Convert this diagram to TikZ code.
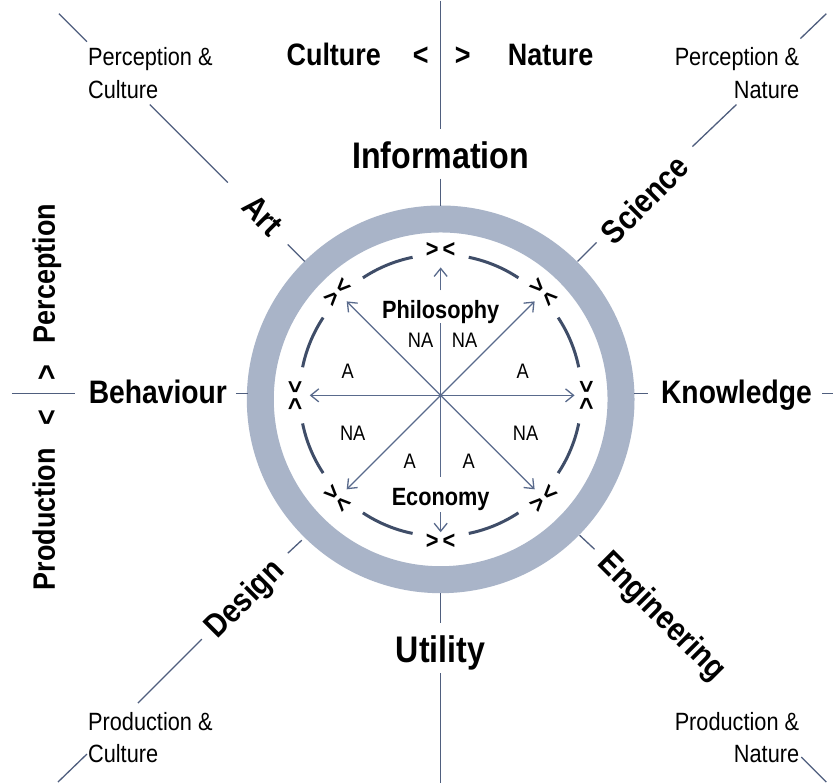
\documentclass[tikz,border=0pt]{standalone}
\usepackage{fontspec}
\setmainfont[FakeStretch=0.87]{Liberation Sans}
\usetikzlibrary{arrows.meta}
\definecolor{ringc}{HTML}{A9B4C8}
\definecolor{spokec}{HTML}{4F5E7E}
\definecolor{dashc}{HTML}{3F4D68}
\definecolor{arrc}{HTML}{596A8C}
\begin{document}
\begin{tikzpicture}[x=1pt,y=-1pt,
  spokeline/.style={draw=spokec,line width=1.3pt},
  biglab/.style={font=\fontsize{37}{40}\selectfont\bfseries, inner sep=0pt},
  midlab/.style={font=\fontsize{32.5}{40}\selectfont\bfseries, inner sep=0pt},
  axlab/.style={font=\fontsize{31}{36}\selectfont\bfseries, inner sep=0pt},
  diaglab/.style={font=\fontsize{33}{36}\selectfont\bfseries, inner sep=0pt},
  smalllab/.style={font=\fontsize{25}{30}\selectfont, inner sep=0pt},
  inlab/.style={font=\fontsize{25}{30}\selectfont\bfseries, inner sep=0pt},
  zonelab/.style={font=\fontsize{21}{24}\selectfont, inner sep=0pt},
  chev/.style={font=\fontsize{25}{28}\selectfont\bfseries, inner sep=0pt},
  arrline/.style={draw=arrc, line width=1.3pt},
  inarrow/.style={arrline, -{Straight Barb[length=8pt,width=13pt]}},
  dashseg/.style={draw=dashc, line width=3pt}
]
\fill[white] (0,0) rectangle (834,783);

% ring
\draw[draw=ringc, line width=27pt] (441,399) circle[radius=180.5];

% outer spokes
\draw[spokeline] (441,0) -- (441,128);
\draw[spokeline] (441,178) -- (441,206);
\draw[spokeline] (441,593) -- (441,623);
\draw[spokeline] (441,673) -- (441,783);
\draw[spokeline] (12,393) -- (75,393);
\draw[spokeline] (236,393) -- (248,393);
\draw[spokeline] (634,393) -- (648,393);
\draw[spokeline] (823,393) -- (834,393);
\draw[spokeline] (59,13) -- (87,41);
\draw[spokeline] (150,104) -- (228,182);
\draw[spokeline] (288,244) -- (305,261);
\draw[spokeline] (827,13) -- (801,38);
\draw[spokeline] (737,104) -- (693,146);
\draw[spokeline] (597,242) -- (578,261);
\draw[spokeline] (202,639) -- (138,703);
\draw[spokeline] (87,754) -- (58,782);
\draw[spokeline] (302,540) -- (288,553);
\draw[spokeline] (580,535) -- (595,549);
\draw[spokeline] (802,757) -- (827,782);

% inner part
\begin{scope}[shift={(441,395)}, y=1pt]
  \coordinate (O) at (0,0);
  \foreach \a in {22.5,67.5,...,337.5}
    \draw[dashseg] ({\a-11}:141) arc[start angle={\a-11}, end angle={\a+11}, radius=141];
  \foreach \a in {0,45,...,315}
    \node[chev, rotate=\a-90] (ch\a) at (\a:145) {>\hspace{4pt}<};
  \foreach \a/\r in {0/134, 45/133, 135/133, 180/131, 225/133, 315/133}
    \draw[inarrow] (O) -- (\a:\r);
  \draw[arrline] (O) -- (0,72);
  \draw[inarrow] (0,105) -- (0,128);
  \draw[arrline] (O) -- (0,-82);
  \draw[inarrow] (0,-117) -- (0,-137);
\end{scope}

% inner labels
\node[inlab, anchor=base] (phil) at (441,318) {Philosophy};
\node[inlab, anchor=base] (econ) at (441,505) {Economy};
\node[zonelab, anchor=base] (z1) at (421,347) {NA};
\node[zonelab, anchor=base] (z2) at (465,347) {NA};
\node[zonelab, anchor=base] (z3) at (348,378) {A};
\node[zonelab, anchor=base] (z4) at (523,378) {A};
\node[zonelab, anchor=base] (z5) at (353,440) {NA};
\node[zonelab, anchor=base] (z6) at (526,440) {NA};
\node[zonelab, anchor=base] (z7) at (410,468) {A};
\node[zonelab, anchor=base] (z8) at (469,468) {A};

% main labels
\node[biglab, anchor=base] (info) at (441,168) {Information};
\node[biglab, anchor=base] (util) at (441,662) {Utility};
\node[midlab, anchor=base] (behav) at (158,403) {Behaviour};
\node[midlab, anchor=base] (know) at (737,403) {Knowledge};
\node[axlab, anchor=base] (cult) at (334,65) {Culture};
\node[axlab, anchor=base] (ltop) at (421,65) {<};
\node[axlab, anchor=base] (gtop) at (463,65) {>};
\node[axlab, anchor=base] (nat) at (551,65) {Nature};
\node[axlab, anchor=base, rotate=90] (perc) at (55,273) {Perception};
\node[axlab, anchor=base, rotate=90] (gleft) at (57,372) {>};
\node[axlab, anchor=base, rotate=90] (lleft) at (57,417) {<};
\node[axlab, anchor=base, rotate=90] (prod) at (55,519) {Production};

\node[diaglab, rotate=-45] (art) at (263,215) {Art};
\node[diaglab, rotate=45] (sci) at (645,199) {Science};
\node[diaglab, rotate=45] (des) at (246,600) {Design};
\node[diaglab, rotate=-45] (eng) at (662,617) {Engineering};

% corner labels
\node[smalllab, anchor=base west] (pc1) at (88,65) {Perception \&};
\node[smalllab, anchor=base west] (pc2) at (88,98) {Culture};
\node[smalllab, anchor=base east] (pn1) at (800,65) {Perception \&};
\node[smalllab, anchor=base east] (pn2) at (800,98) {Nature};
\node[smalllab, anchor=base west] (dc1) at (88,730) {Production \&};
\node[smalllab, anchor=base west] (dc2) at (88,762) {Culture};
\node[smalllab, anchor=base east] (dn1) at (800,730) {Production \&};
\node[smalllab, anchor=base east] (dn2) at (800,762) {Nature};
\end{tikzpicture}
\end{document}
